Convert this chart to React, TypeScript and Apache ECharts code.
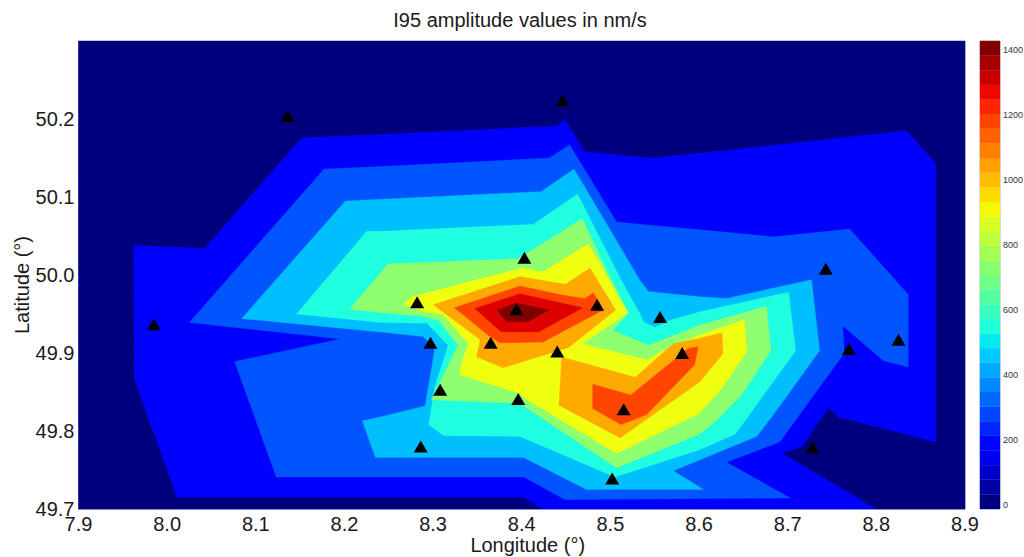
import React, { useEffect, useRef } from "react";
import * as echarts from "echarts";

type Ring = number[][];

const xTicks = [7.9, 8.0, 8.1, 8.2, 8.3, 8.4, 8.5, 8.6, 8.7, 8.8, 8.9];
const yTicks = [49.7, 49.8, 49.9, 50.0, 50.1, 50.2];
const colorbarTicks = [0, 200, 400, 600, 800, 1000, 1200, 1400];
const colorbarMin = -12;
const colorbarMax = 1428;
const colorbarSteps = 32;

const level0: Ring[] = [[[7.9, 49.7], [8.9, 49.7], [8.9, 50.3], [7.9, 50.3]]];
const level1: Ring[] = [[
  [7.962, 50.038], [8.042, 50.034], [8.152, 50.176], [8.240, 50.180], [8.439, 50.191], [8.449, 50.199],
  [8.471, 50.158], [8.547, 50.150], [8.601, 50.156], [8.834, 50.185], [8.867, 50.143], [8.867, 49.786],
  [8.757, 49.818], [8.746, 49.830], [8.716, 49.780], [8.694, 49.771], [8.800, 49.700], [8.423, 49.700],
  [8.402, 49.715], [8.011, 49.715], [7.963, 49.867],
]];
const level2: Ring[] = [[
  [8.177, 50.136], [8.240, 50.139], [8.431, 50.150], [8.454, 50.167], [8.507, 50.068], [8.601, 50.058],
  [8.684, 50.049], [8.770, 50.059], [8.836, 49.975], [8.836, 49.882], [8.808, 49.890], [8.762, 49.935],
  [8.764, 49.900], [8.691, 49.786], [8.631, 49.760], [8.703, 49.714], [8.449, 49.712], [8.402, 49.741],
  [8.123, 49.741], [8.076, 49.889], [8.195, 49.918], [8.025, 49.939],
]];
const level3: Ring[] = [[
  [8.201, 50.095], [8.240, 50.097], [8.422, 50.107], [8.459, 50.136], [8.533, 49.994], [8.543, 49.979],
  [8.601, 49.972], [8.631, 49.970], [8.727, 49.994], [8.736, 49.903], [8.682, 49.818], [8.665, 49.793],
  [8.601, 49.763], [8.571, 49.749], [8.605, 49.725], [8.473, 49.725], [8.402, 49.766], [8.235, 49.766],
  [8.220, 49.813], [8.240, 49.818], [8.291, 49.832], [8.302, 49.906], [8.289, 49.921], [8.240, 49.927],
  [8.084, 49.944],
]];
const level4: Ring[] = [[
  [8.225, 50.056], [8.240, 50.056], [8.413, 50.065], [8.463, 50.104], [8.512, 49.994], [8.533, 49.951],
  [8.538, 49.939], [8.550, 49.933], [8.567, 49.942], [8.601, 49.953], [8.701, 49.978], [8.709, 49.903],
  [8.641, 49.796], [8.601, 49.776], [8.505, 49.741], [8.398, 49.793], [8.312, 49.794], [8.295, 49.808],
  [8.302, 49.857], [8.317, 49.910], [8.293, 49.938], [8.240, 49.939], [8.146, 49.950],
]];
const level5: Ring[] = [[
  [8.249, 50.014], [8.396, 50.021], [8.468, 50.072], [8.501, 49.994], [8.520, 49.951], [8.503, 49.929],
  [8.543, 49.910], [8.573, 49.923], [8.601, 49.936], [8.676, 49.960], [8.681, 49.903], [8.648, 49.846],
  [8.618, 49.812], [8.601, 49.796], [8.507, 49.753], [8.401, 49.833], [8.387, 49.836], [8.298, 49.840],
  [8.328, 49.910], [8.306, 49.942], [8.287, 49.947], [8.240, 49.952], [8.206, 49.956],
]];
const level6: Ring[] = [[
  [8.266, 49.962], [8.276, 49.972], [8.400, 50.009], [8.424, 50.004], [8.475, 50.040], [8.520, 49.952],
  [8.469, 49.912], [8.541, 49.891], [8.571, 49.910], [8.601, 49.923], [8.651, 49.943], [8.654, 49.902],
  [8.626, 49.855], [8.601, 49.823], [8.507, 49.771], [8.406, 49.840], [8.396, 49.849], [8.330, 49.872],
  [8.333, 49.891], [8.340, 49.912], [8.311, 49.949], [8.291, 49.953],
]];
const level7: Ring[] = [
  [
    [8.300, 49.962], [8.398, 49.998], [8.449, 49.988], [8.477, 50.009], [8.506, 49.955], [8.453, 49.907],
    [8.379, 49.881], [8.349, 49.895], [8.353, 49.917],
  ],
  [
    [8.445, 49.895], [8.528, 49.869], [8.571, 49.912], [8.601, 49.919], [8.626, 49.926], [8.627, 49.899],
    [8.601, 49.863], [8.511, 49.791], [8.442, 49.833],
  ],
];
const level8: Ring[] = [
  [
    [8.324, 49.958], [8.398, 49.986], [8.447, 49.974], [8.471, 49.970], [8.481, 49.977], [8.492, 49.955],
    [8.424, 49.914], [8.375, 49.913], [8.362, 49.923],
  ],
  [
    [8.480, 49.860], [8.523, 49.846], [8.588, 49.906], [8.599, 49.908], [8.595, 49.885], [8.541, 49.821],
    [8.512, 49.808], [8.480, 49.829],
  ],
];
const level9: Ring[] = [[
  [8.347, 49.957], [8.398, 49.976], [8.445, 49.964], [8.469, 49.958], [8.419, 49.927], [8.377, 49.927],
]];
const level10: Ring[] = [[
  [8.372, 49.955], [8.394, 49.964], [8.431, 49.955], [8.407, 49.940], [8.383, 49.940],
]];

const levels = [level0, level1, level2, level3, level4, level5, level6, level7, level8, level9, level10];
const levelColors = [
  "#00007f", "#0000ff", "#0055ff", "#00bfff", "#1fffdf", "#8fff6f",
  "#efff0f", "#ffaa00", "#ff4500", "#df0000", "#7f0000",
];

const stationLon = [
  8.136, 8.446, 8.403, 8.743, 7.985, 8.282, 8.297, 8.308, 8.286, 8.365, 8.394,
  8.396, 8.440, 8.485, 8.556, 8.581, 8.515, 8.502, 8.769, 8.825, 8.728,
];
const stationLat = [
  50.204, 50.224, 50.022, 50.008, 49.937, 49.965, 49.913, 49.853, 49.780, 49.913, 49.956,
  49.841, 49.902, 49.962, 49.946, 49.900, 49.828, 49.739, 49.905, 49.917, 49.779,
];

const FONT = "'Liberation Sans', Arial, sans-serif";

function ramp(t: number, pts: number[][]): number {
  for (let i = 1; i < pts.length; i++) {
    if (t <= pts[i][0]) {
      const [a, va] = pts[i - 1];
      const [b, vb] = pts[i];
      return va + ((t - a) / (b - a)) * (vb - va);
    }
  }
  return pts[pts.length - 1][1];
}

function jet(t: number): string {
  const r = ramp(t, [[0, 0], [0.35, 0], [0.66, 1], [0.89, 1], [1, 0.5]]);
  const g = ramp(t, [[0, 0], [0.125, 0], [0.375, 1], [0.64, 1], [0.91, 0], [1, 0]]);
  const b = ramp(t, [[0, 0.5], [0.11, 1], [0.34, 1], [0.65, 0], [1, 0]]);
  return `rgb(${Math.round(r * 255)},${Math.round(g * 255)},${Math.round(b * 255)})`;
}

export default function App() {
  const ref = useRef<HTMLDivElement>(null);

  useEffect(() => {
    const chart = echarts.init(ref.current!, undefined, { renderer: "svg" });
    const barStep = (colorbarMax - colorbarMin) / colorbarSteps;
    const bands = Array.from({ length: colorbarSteps }, (_, i) => [i, colorbarMin + i * barStep, colorbarMin + (i + 1) * barStep]);

    const contourSeries = levels.map((rings, li) => ({
      type: "custom",
      name: `level${li}`,
      xAxisIndex: 0,
      yAxisIndex: 0,
      coordinateSystem: "cartesian2d",
      silent: true,
      clip: true,
      data: rings.map((r) => r[0]),
      renderItem: (params: any, api: any) => ({
        type: "polygon",
        shape: { points: rings[params.dataIndex].map((p) => api.coord(p)) },
        style: { fill: levelColors[li], stroke: levelColors[li], lineWidth: 0.3 },
      }),
    }));

    chart.setOption({
      animation: false,
      backgroundColor: "#ffffff",
      title: {
        text: "I95 amplitude values in nm/s",
        left: 515,
        top: 5,
        textAlign: "center",
        textStyle: { fontFamily: FONT, fontSize: 20, fontWeight: "normal", color: "#1a1a1a" },
      },
      grid: [
        { left: 78.5, top: 41, width: 886.5, height: 468, show: true, borderColor: "#8a8ac8", borderWidth: 1, outerBoundsMode: "none" },
        { left: 980, top: 41, width: 20, height: 468, show: true, borderColor: "#b8b8cc", borderWidth: 1, outerBoundsMode: "none" },
      ],
      xAxis: [
        {
          type: "value",
          gridIndex: 0,
          min: 7.9,
          max: 8.9,
          interval: 0.1,
          name: "Longitude (°)",
          nameLocation: "middle",
          nameGap: 26,
          nameMoveOverlap: false,
          nameTextStyle: { fontFamily: FONT, fontSize: 20, color: "#1a1a1a", padding: [0, 0, 0, 12] },
          splitLine: { show: false },
          axisTick: { show: false },
          axisLine: { show: true, onZero: false, lineStyle: { color: "#8a8ac8", width: 1 } },
          axisLabel: {
            fontFamily: FONT,
            fontSize: 20,
            color: "#1a1a1a",
            margin: 5,
            showMinLabel: true,
            showMaxLabel: true,
            hideOverlap: false,
            customValues: xTicks,
            formatter: (v: number) => v.toFixed(1),
          },
        },
        {
          type: "value",
          gridIndex: 1,
          min: 0,
          max: 1,
          show: false,
        },
      ],
      yAxis: [
        {
          type: "value",
          gridIndex: 0,
          min: 49.7,
          max: 50.3,
          interval: 0.1,
          name: "Latitude (°)",
          nameLocation: "middle",
          nameRotate: 90,
          nameGap: 47,
          nameMoveOverlap: false,
          nameTextStyle: { fontFamily: FONT, fontSize: 20, color: "#1a1a1a", padding: [0, 20, 0, 0] },
          splitLine: { show: false },
          axisTick: { show: false },
          axisLine: { show: true, onZero: false, lineStyle: { color: "#8a8ac8", width: 1 } },
          axisLabel: {
            fontFamily: FONT,
            fontSize: 20,
            color: "#1a1a1a",
            margin: 4,
            showMinLabel: true,
            hideOverlap: false,
            customValues: yTicks,
            formatter: (v: number) => v.toFixed(1),
          },
        },
        {
          type: "value",
          gridIndex: 1,
          position: "right",
          min: colorbarMin,
          max: colorbarMax,
          splitLine: { show: false },
          axisTick: { show: false },
          axisLine: { show: false },
          axisLabel: {
            fontFamily: FONT,
            fontSize: 9,
            color: "#333333",
            margin: 3,
            hideOverlap: false,
            customValues: colorbarTicks,
            formatter: (v: number) => String(Math.round(v)),
          },
        },
      ],
      series: [
        ...contourSeries,
        {
          type: "scatter",
          xAxisIndex: 0,
          yAxisIndex: 0,
          symbol: "triangle",
          symbolSize: [14, 12],
          itemStyle: { color: "#000000", opacity: 1 },
          silent: true,
          clip: false,
          data: stationLon.map((lon, i) => [lon, stationLat[i]]),
        },
        {
          type: "custom",
          xAxisIndex: 1,
          yAxisIndex: 1,
          coordinateSystem: "cartesian2d",
          silent: true,
          data: bands,
          renderItem: (params: any, api: any) => {
            const bottomLeft = api.coord([0, api.value(1)]);
            const topRight = api.coord([1, api.value(2)]);
            const color = jet(api.value(0) / (colorbarSteps - 1));
            return {
              type: "rect",
              shape: {
                x: bottomLeft[0],
                y: topRight[1],
                width: topRight[0] - bottomLeft[0],
                height: bottomLeft[1] - topRight[1],
              },
              style: { fill: color, stroke: color, lineWidth: 0.3 },
            };
          },
        },
      ],
    });
    return () => chart.dispose();
  }, []);

  return <div ref={ref} style={{ position: "absolute", left: 0, top: 0, width: 1024, height: 557 }} />;
}
